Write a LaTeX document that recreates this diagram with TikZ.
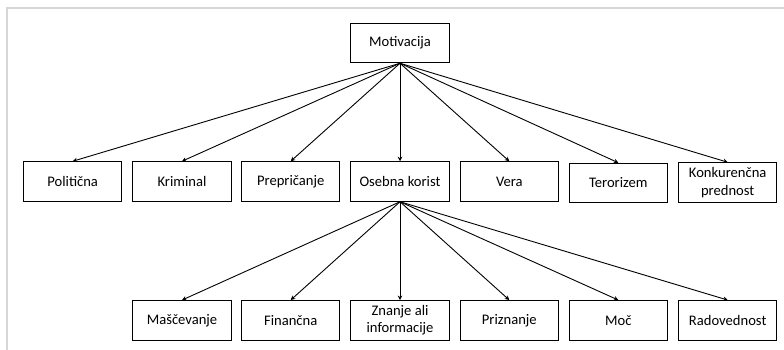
\documentclass[tikz,border=0pt]{standalone}
\usepackage{fontspec}
\setmainfont{Carlito}
\usetikzlibrary{arrows.meta}
\begin{document}
\begin{tikzpicture}[x=1pt,y=-1pt,
  box/.style={draw=black,line width=1pt,minimum width=98.5pt,minimum height=39.5pt,
    inner sep=0pt,align=center,font=\fontsize{14.6}{17.5}\selectfont},
  link/.style={draw=black,line width=0.9pt,-{Stealth[length=4.5pt,width=4.5pt]}},
  frameline/.style={draw={rgb,255:red,214;green,214;blue,214},line width=2.6pt}]
\useasboundingbox (0,0) rectangle (784,350);
% page frame
\draw[frameline] (7,350) -- (7,8) -- (784,8);
% root
\node[box] (mot) at (400,43) {Motivacija};
% first level
\node[box] (pol) at (72.7,181.5) {Politična};
\node[box] (kri) at (182,181.5) {Kriminal};
\node[box] (pre) at (290.7,181.5) {Prepričanje};
\node[box] (ose) at (400,181.5) {Osebna korist};
\node[box] (ver) at (509.3,181.5) {Vera};
\node[box] (ter) at (618.3,183) {Terorizem};
\node[box] (kon) at (727.7,182.5) {Konkurenčna\\prednost};
% second level
\node[box] (mas) at (182,320.3) {Maščevanje};
\node[box] (fin) at (290.7,320.3) {Finančna};
\node[box] (zna) at (400,320.3) {Znanje ali\\informacije};
\node[box] (pri) at (509.3,320.3) {Priznanje};
\node[box] (moc) at (618.3,320.3) {Moč};
\node[box] (rad) at (727.7,320.3) {Radovednost};
% connectors
\foreach \t in {pol,kri,pre,ose,ver,ter,kon}
  \draw[link] (mot.south) -- (\t.north);
\foreach \t in {mas,fin,zna,pri,moc,rad}
  \draw[link] (ose.south) -- (\t.north);
\end{tikzpicture}
\end{document}
